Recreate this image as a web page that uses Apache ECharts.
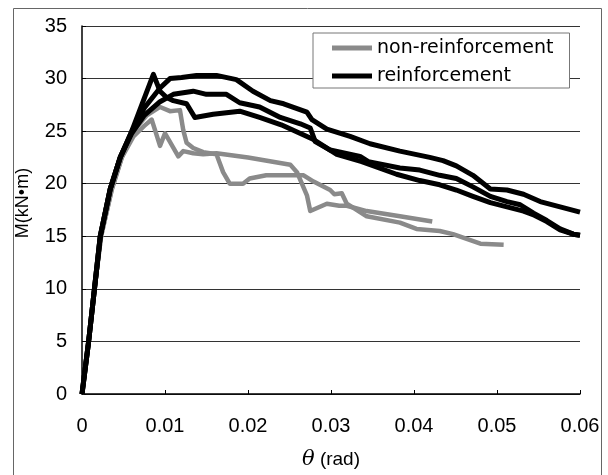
<!DOCTYPE html>
<html>
<head>
<meta charset="utf-8">
<script src="https://cdn.jsdelivr.net/npm/echarts@6/dist/echarts.min.js"></script>
<style>
html,body{margin:0;padding:0;background:#fff;}
#chart{width:608px;height:475px;}
</style>
</head>
<body>
<div id="chart"></div>
<script>
// ---- data (theta [rad], M [kN·m]) ----
const xTickLabels = ['0','0.01','0.02','0.03','0.04','0.05','0.06'];
const yTickLabels = ['0','5','10','15','20','25','30','35'];

const reinforcement1 = [[0,0],[0.0008,5],[0.0015,10],[0.0022,15],[0.0034,19.5],[0.0046,22.5],[0.006,25],[0.0072,27.5],[0.0086,30.4],[0.0094,28.8],[0.0102,28.2],[0.011,27.9],[0.0126,27.6],[0.0136,26.3],[0.0158,26.6],[0.019,26.9],[0.0214,26.3],[0.024,25.6],[0.0279,24.2],[0.0307,22.8],[0.0337,22.1],[0.0379,20.9],[0.0407,20.3],[0.0431,19.9],[0.0451,19.4],[0.0471,18.8],[0.0492,18.2],[0.0512,17.8],[0.0532,17.4],[0.0545,17.0],[0.056,16.4],[0.0576,15.6],[0.0592,15.2],[0.06,15.1]];
const reinforcement2 = [[0,0],[0.0008,5],[0.0015,10],[0.0022,15],[0.0034,19.5],[0.0046,22.5],[0.006,25],[0.0075,27.2],[0.0094,29.1],[0.0106,30.0],[0.012,30.1],[0.0138,30.3],[0.0162,30.3],[0.0186,29.9],[0.0206,28.8],[0.0227,27.9],[0.0243,27.6],[0.0271,26.8],[0.0277,26.1],[0.0295,25.2],[0.0323,24.5],[0.0347,23.8],[0.0383,23.1],[0.0419,22.5],[0.0435,22.2],[0.0451,21.7],[0.0471,20.8],[0.0492,19.5],[0.0512,19.4],[0.0532,19.0],[0.0552,18.3],[0.0576,17.8],[0.06,17.3]];
const reinforcement3 = [[0,0],[0.0008,5],[0.0015,10],[0.0022,15],[0.0034,19.5],[0.0046,22.5],[0.006,24.8],[0.0075,26.5],[0.0094,27.8],[0.011,28.5],[0.0134,28.8],[0.015,28.5],[0.0174,28.5],[0.019,27.7],[0.0214,27.3],[0.0239,26.3],[0.0263,25.7],[0.0275,25.3],[0.0281,24.0],[0.0299,23.2],[0.0335,22.6],[0.0345,22.1],[0.0383,21.5],[0.0407,21.3],[0.0431,20.8],[0.0451,20.5],[0.0471,19.7],[0.0492,18.8],[0.0512,18.3],[0.0528,18.0],[0.0544,17.2],[0.056,16.5],[0.0576,15.7],[0.0592,15.2],[0.06,15.1]];
const nonReinforcement1 = [[0,0],[0.0008,5],[0.0015,10],[0.0023,15],[0.0036,19.5],[0.0048,22.5],[0.0062,24.5],[0.0075,25.5],[0.0084,26.1],[0.0094,23.6],[0.01,24.8],[0.0116,22.6],[0.0122,23.1],[0.0134,22.9],[0.0146,22.8],[0.0162,22.9],[0.02,22.5],[0.0251,21.8],[0.0259,21.1],[0.0271,18.9],[0.0275,17.4],[0.0295,18.1],[0.031,17.9],[0.0319,17.9],[0.0343,17.4],[0.0383,16.9],[0.0422,16.4]];
const nonReinforcement2 = [[0,0],[0.0008,5],[0.0015,10],[0.0023,15],[0.0036,19.5],[0.0048,22.5],[0.0062,25],[0.0078,26.5],[0.0094,27.3],[0.0106,26.9],[0.0118,27.0],[0.0122,25.1],[0.0126,23.9],[0.0134,23.4],[0.0146,23.0],[0.0162,22.8],[0.017,21.1],[0.0178,20.0],[0.0194,20.0],[0.0202,20.5],[0.0222,20.8],[0.0267,20.8],[0.0279,20.2],[0.0299,19.4],[0.0304,19.0],[0.0313,19.1],[0.0319,18.1],[0.0343,16.9],[0.0383,16.3],[0.0403,15.7],[0.0431,15.5],[0.0447,15.2],[0.048,14.3],[0.0508,14.2]];

const nameNon = 'non-reinforcement';
const nameRe = 'reinforcement';

const chart = echarts.init(document.getElementById('chart'), null, {renderer:'canvas'});
const font = 'Liberation Sans, Arial, sans-serif';
const grayColor = '#8a8a8a';

function mk(name, data, color, width){
  return {name:name, type:'line', data:data, showSymbol:false, symbol:'none',
    lineStyle:{color:color, width:width, join:'round'}, itemStyle:{color:color}, animation:false};
}

chart.setOption({
  animation:false,
  graphic:[{type:'rect', shape:{x:13.5,y:8.5,width:588,height:480}, style:{fill:'none', stroke:'#666', lineWidth:1}, silent:true}],
  grid:{left:82, right:28, top:26, bottom:70},
  legend:{
    data:[nameNon, nameRe], orient:'vertical', left:313, top:33,
    padding:[4,16,1,19], itemGap:6, itemWidth:40, itemHeight:5, icon:'rect',
    borderColor:'#777', borderWidth:1, backgroundColor:'#fff',
    textStyle:{fontFamily:'DejaVu Sans', fontSize:19, color:'#000', lineHeight:22}
  },
  xAxis:{
    type:'value', min:0, max:0.06, interval:0.01,
    name:'{t|θ} (rad)', nameLocation:'middle', nameGap:55,
    nameTextStyle:{fontFamily:font, fontSize:19, color:'#000', rich:{t:{fontFamily:'DejaVu Serif', fontStyle:'italic', fontSize:21, color:'#000'}}},
    axisLine:{lineStyle:{color:'#000', width:1.5}},
    axisTick:{inside:true, length:4, lineStyle:{color:'#000'}},
    axisLabel:{margin:22, fontFamily:font, fontSize:20, color:'#000',
      formatter:function(v){return xTickLabels[Math.round(v/0.01)];}},
    splitLine:{show:false}
  },
  yAxis:{
    type:'value', min:0, max:35, interval:5,
    name:'M(kN•m)', nameLocation:'middle', nameGap:50, nameRotate:90,
    nameTextStyle:{fontFamily:font, fontSize:18, color:'#000', padding:[0,0,0,14]},
    axisLine:{lineStyle:{color:'#000', width:1.5}},
    axisTick:{inside:true, length:4, lineStyle:{color:'#000'}},
    axisLabel:{margin:15, fontFamily:font, fontSize:20, color:'#000',
      formatter:function(v){return yTickLabels[Math.round(v/5)];}},
    splitLine:{lineStyle:{color:'#333', width:1}}
  },
  series:[
    mk(nameNon, nonReinforcement1, grayColor, 4.5),
    mk(nameNon, nonReinforcement2, grayColor, 4.5),
    mk(nameRe, reinforcement1, '#000', 5),
    mk(nameRe, reinforcement2, '#000', 5),
    mk(nameRe, reinforcement3, '#000', 5)
  ]
});
</script>
</body>
</html>
